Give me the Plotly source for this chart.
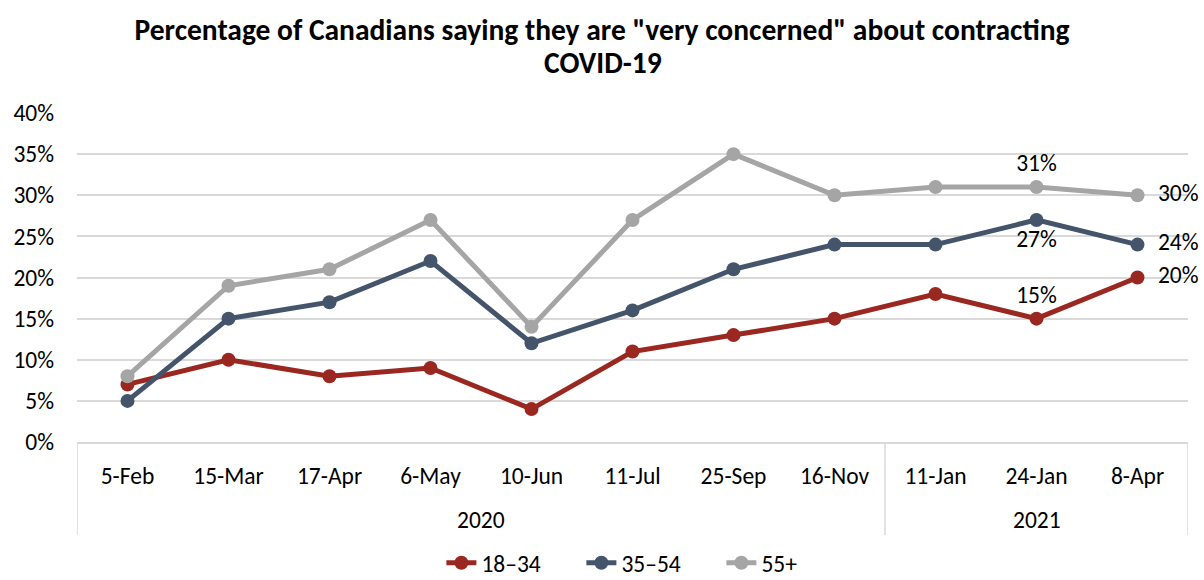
import plotly.graph_objects as go

dates = ["5-Feb", "15-Mar", "17-Apr", "6-May", "10-Jun", "11-Jul", "25-Sep", "16-Nov", "11-Jan", "24-Jan", "8-Apr"]
years = ["2020"] * 8 + ["2021"] * 3
s_18_34 = [7, 10, 8, 9, 4, 11, 13, 15, 18, 15, 20]
s_35_54 = [5, 15, 17, 22, 12, 16, 21, 24, 24, 27, 24]
s_55 = [8, 19, 21, 27, 14, 27, 35, 30, 31, 31, 30]
y_ticks = [0, 5, 10, 15, 20, 25, 30, 35, 40]
title_lines = ["Percentage of Canadians saying they are \"very concerned\" about contracting", "COVID-19"]

FONT = "Carlito, Lato, sans-serif"
FS = 23.5
TFS = 29.5
GRID = "#D9D9D9"
NB = "\u00a0\u00a0"

def labels(vals, idx_pos):
    text = [""] * len(vals)
    pos = ["top center"] * len(vals)
    for i, p in idx_pos.items():
        text[i] = (NB if p == "middle right" else "") + f"{vals[i]}%"
        pos[i] = p
    return text, pos

series = [
    ("18–34", s_18_34, "#9A2820", {9: "top center", 10: "middle right"}),
    ("35–54", s_35_54, "#44546A", {9: "bottom center", 10: "middle right"}),
    ("55+", s_55, "#A5A5A5", {9: "top center", 10: "middle right"}),
]

fig = go.Figure()
for name, vals, color, lp in series:
    text, pos = labels(vals, lp)
    fig.add_trace(go.Scatter(
        x=dates, y=vals, name=name,
        mode="lines+markers+text",
        line=dict(color=color, width=5),
        marker=dict(color=color, size=14),
        text=text, textposition=pos,
        textfont=dict(family=FONT, size=FS, color="#000000"),
        cliponaxis=False,
    ))

# year group labels and dividers (multi-level category axis)
groups = []
for i, yr in enumerate(years):
    if not groups or groups[-1][0] != yr:
        groups.append([yr, i, i])
    else:
        groups[-1][2] = i

PLOT_W, PLOT_H = 1111, 329
div_bottom = -(535 - 442) / PLOT_H
for yr, i0, i1 in groups:
    fig.add_annotation(
        x=(i0 + i1) / 2, y=-(520 - 442) / PLOT_H, xref="x", yref="paper",
        text=yr, showarrow=False, yanchor="middle",
        font=dict(family=FONT, size=FS, color="#000000"),
    )
bounds = sorted({g[1] - 0.5 for g in groups} | {g[2] + 0.5 for g in groups})
for b in bounds:
    fig.add_shape(type="line", xref="x", yref="paper", x0=b, x1=b, y0=0, y1=div_bottom,
                  line=dict(color=GRID, width=1.5))

# second title line, centred on the page like the first
fig.add_annotation(
    x=(603 - 77) / PLOT_W, xref="paper", y=1 + (113 - 63) / PLOT_H, yref="paper",
    text=f"<b>{title_lines[1]}</b>", showarrow=False, yanchor="middle", xanchor="center",
    font=dict(family=FONT, size=TFS, color="#000000"),
)

fig.update_layout(
    width=1204, height=580,
    margin=dict(l=77, r=16, t=113, b=138, autoexpand=False),
    paper_bgcolor="white", plot_bgcolor="white",
    font=dict(family=FONT, size=FS, color="#000000"),
    title=dict(
        text=f"<b>{title_lines[0]}</b>",
        x=0.5, xanchor="center", y=1 - 30 / 580, yanchor="middle",
        font=dict(family=FONT, size=TFS, color="#000000"),
    ),
    xaxis=dict(
        type="category", range=[-0.5, len(dates) - 0.5],
        showline=True, linecolor=GRID, linewidth=1.5,
        showgrid=False, ticks="", ticklabelstandoff=12,
        tickfont=dict(family=FONT, size=FS), automargin=False,
    ),
    yaxis=dict(
        range=[0, 40], tickvals=y_ticks, ticktext=[f"{v}%" for v in y_ticks],
        showgrid=True, gridcolor=GRID, gridwidth=1.5,
        zeroline=False, showline=False, ticks="", ticklabelstandoff=22,
        tickfont=dict(family=FONT, size=FS), automargin=False,
    ),
    legend=dict(
        orientation="h", x=0.517, xanchor="center",
        yref="container", y=1 - 563 / 580, yanchor="middle",
        font=dict(family=FONT, size=FS), entrywidth=95, entrywidthmode="pixels",
    ),
    showlegend=True,
)

fig.write_html("out.html")
